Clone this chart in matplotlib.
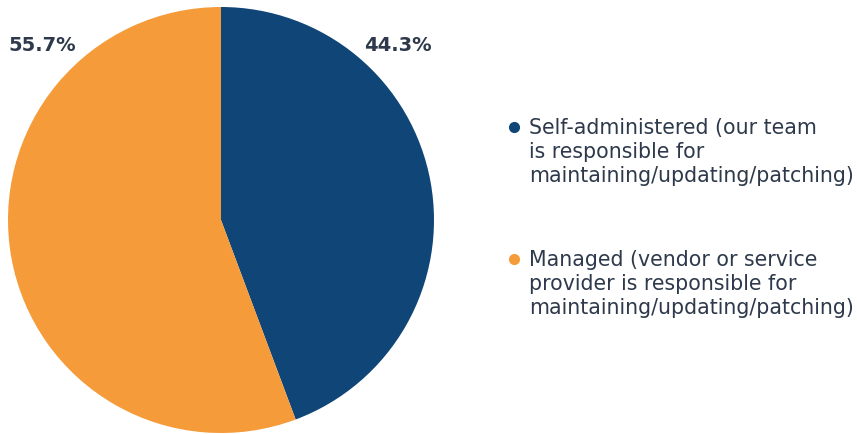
import matplotlib.pyplot as plt
from matplotlib.lines import Line2D

# -----------------------------
# Data
# -----------------------------
labels = [
    "Self-administered (our team\nis responsible for\nmaintaining/updating/patching)",
    "Managed (vendor or service\nprovider is responsible for\nmaintaining/updating/patching)",
]
shares = [44.3, 55.7]
colors = ["#0f4577", "#f59b3a"]
text_color = "#2e3a4b"

plt.rcParams["font.family"] = ["DejaVu Sans"]

W, H = 857, 435
fig = plt.figure(figsize=(W / 100, H / 100), dpi=100)

# pie area, in pixels: centre (221, 221), radius 213
ax = fig.add_axes([8 / W, 1 / H, 426 / W, 426 / H])
ax.pie(shares, colors=colors, startangle=90, counterclock=False,
       radius=1.0, wedgeprops=dict(linewidth=0))
ax.set_xlim(-1, 1)
ax.set_ylim(-1, 1)
ax.set_aspect("equal")
ax.axis("off")

# percentage labels at the upper corners
label_pos = [(0.83, 0.825), (-0.84, 0.825)]
for (x, y), v in zip(label_pos, shares):
    ax.text(x, y, f"{v:.1f}%", ha="center", va="center",
            fontsize=14, fontweight="bold", color=text_color)

# -----------------------------
# Legend
# -----------------------------
legend_top = [128, 260]
for top, lab, c in zip(legend_top, labels, colors):
    fig.add_artist(Line2D([514 / W], [1 - top / H], marker="o", markersize=7,
                          color=c, linestyle="none", transform=fig.transFigure))
    fig.text(529 / W, 1 - (top - 10) / H, lab, ha="left", va="top",
             fontsize=14.8, color=text_color, linespacing=1.25)

fig.savefig("out.png", dpi=100)
